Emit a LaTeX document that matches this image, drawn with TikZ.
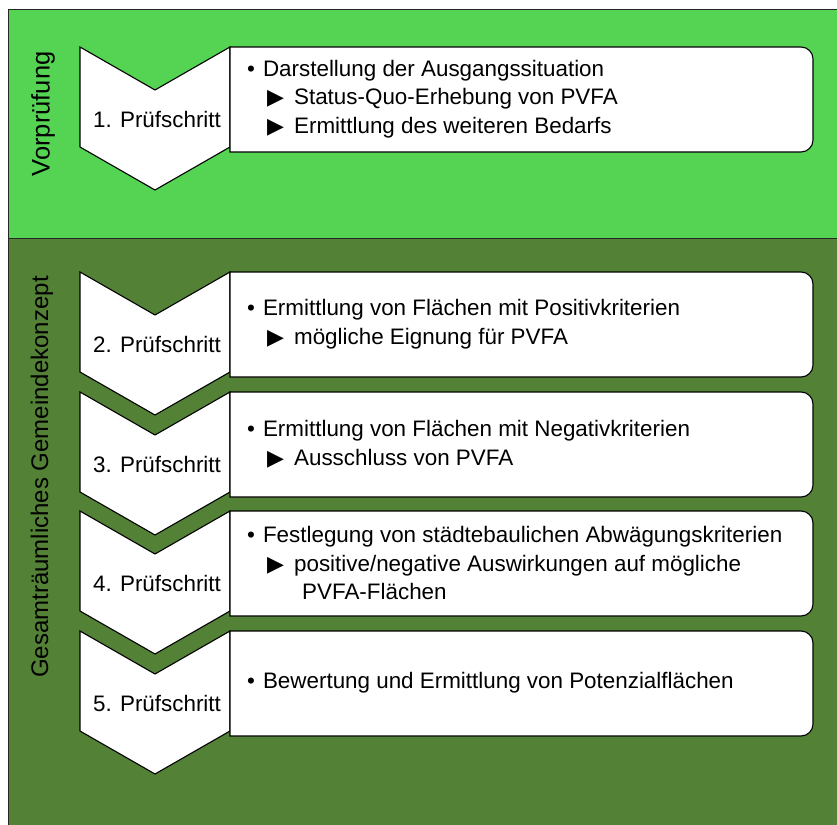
\documentclass[tikz,border=0pt]{standalone}
\usepackage{fontspec}
\setmainfont{Liberation Sans}
\newfontfamily\symfont{DejaVu Sans}
\usetikzlibrary{positioning}

\definecolor{vorgreen}{RGB}{84,212,82}
\definecolor{konzgreen}{RGB}{83,129,53}

\newcommand{\pointer}{\hspace*{20pt}{\symfont\fontsize{22}{22}\selectfont ▶}\hspace{10pt}}

\tikzset{
  frame/.style={draw=black!85, line width=1pt},
  chevron/.style={draw=black, fill=white, line width=1.1pt, line join=miter},
  stepbox/.style={draw=black, fill=white, line width=1.1pt},
  steplabel/.style={font=\fontsize{22.4}{27}\selectfont, inner sep=0pt},
  boxtext/.style={font=\fontsize{22.4}{28.5}\selectfont, align=left, inner sep=0pt},
  phase/.style={font=\fontsize{24}{28}\selectfont, rotate=90, inner sep=0pt},
}

\begin{document}
\begin{tikzpicture}[x=1pt, y=1pt]
    \useasboundingbox (0,0) rectangle (837,-824);
    \clip (0,0) rectangle (837,-824);

    % Phasen
    \fill[vorgreen] (8,-10) rectangle (850,-238);
    \fill[konzgreen] (8,-238) rectangle (850,-830);
    \draw[frame] (850,-10) -- (8,-10) -- (8,-830);
    \draw[frame] (8,-238) -- (850,-238);
    \node[phase, font=\fontsize{25.5}{28}\selectfont] (vor) at (43,-114) {Vorprüfung};
    \node[phase] (gesamt) at (42,-477) {Gesamträumliches Gemeindekonzept};

    % Prüfschritte
    \foreach \t/\n in {47/1, 272/2, 392/3, 511/4, 631/5} {
        \draw[chevron] (80,-\t) -- (155,{-\t-43}) -- (230,-\t) -- (230,{-\t-100})
            -- (155,{-\t-143}) -- (80,{-\t-100}) -- cycle;
        \node[steplabel] (s\n) at (157,{-\t-72}) {\n. Prüfschritt};
        \draw[stepbox] (230,-\t) -- (801,-\t) arc[start angle=90, end angle=0, radius=12pt]
            -- (813,{-\t-93}) arc[start angle=0, end angle=-90, radius=12pt]
            -- (230,{-\t-105}) -- cycle;
        \coordinate (box\n) at (230,{-\t-52});
    }

    \node[boxtext, right=17pt of box1] (txt1) {\textbullet\hspace{8pt}Darstellung der Ausgangssituation\\
        \pointer Status-Quo-Erhebung von PVFA\\
        \pointer Ermittlung des weiteren Bedarfs};
    \node[boxtext, right=17pt of box2] (txt2) {\textbullet\hspace{8pt}Ermittlung von Flächen mit Positivkriterien\\
        \pointer mögliche Eignung für PVFA};
    \node[boxtext, right=17pt of box3] (txt3) {\textbullet\hspace{8pt}Ermittlung von Flächen mit Negativkriterien\\
        \pointer Ausschluss von PVFA};
    \node[boxtext, right=17pt of box4] (txt4) {\textbullet\hspace{8pt}Festlegung von städtebaulichen Abwägungskriterien\\
        \pointer positive/negative Auswirkungen auf mögliche\\
        \hspace*{55pt}PVFA-Flächen};
    \node[boxtext, right=17pt of box5] (txt5) {\textbullet\hspace{8pt}Bewertung und Ermittlung von Potenzialflächen};
\end{tikzpicture}
\end{document}
